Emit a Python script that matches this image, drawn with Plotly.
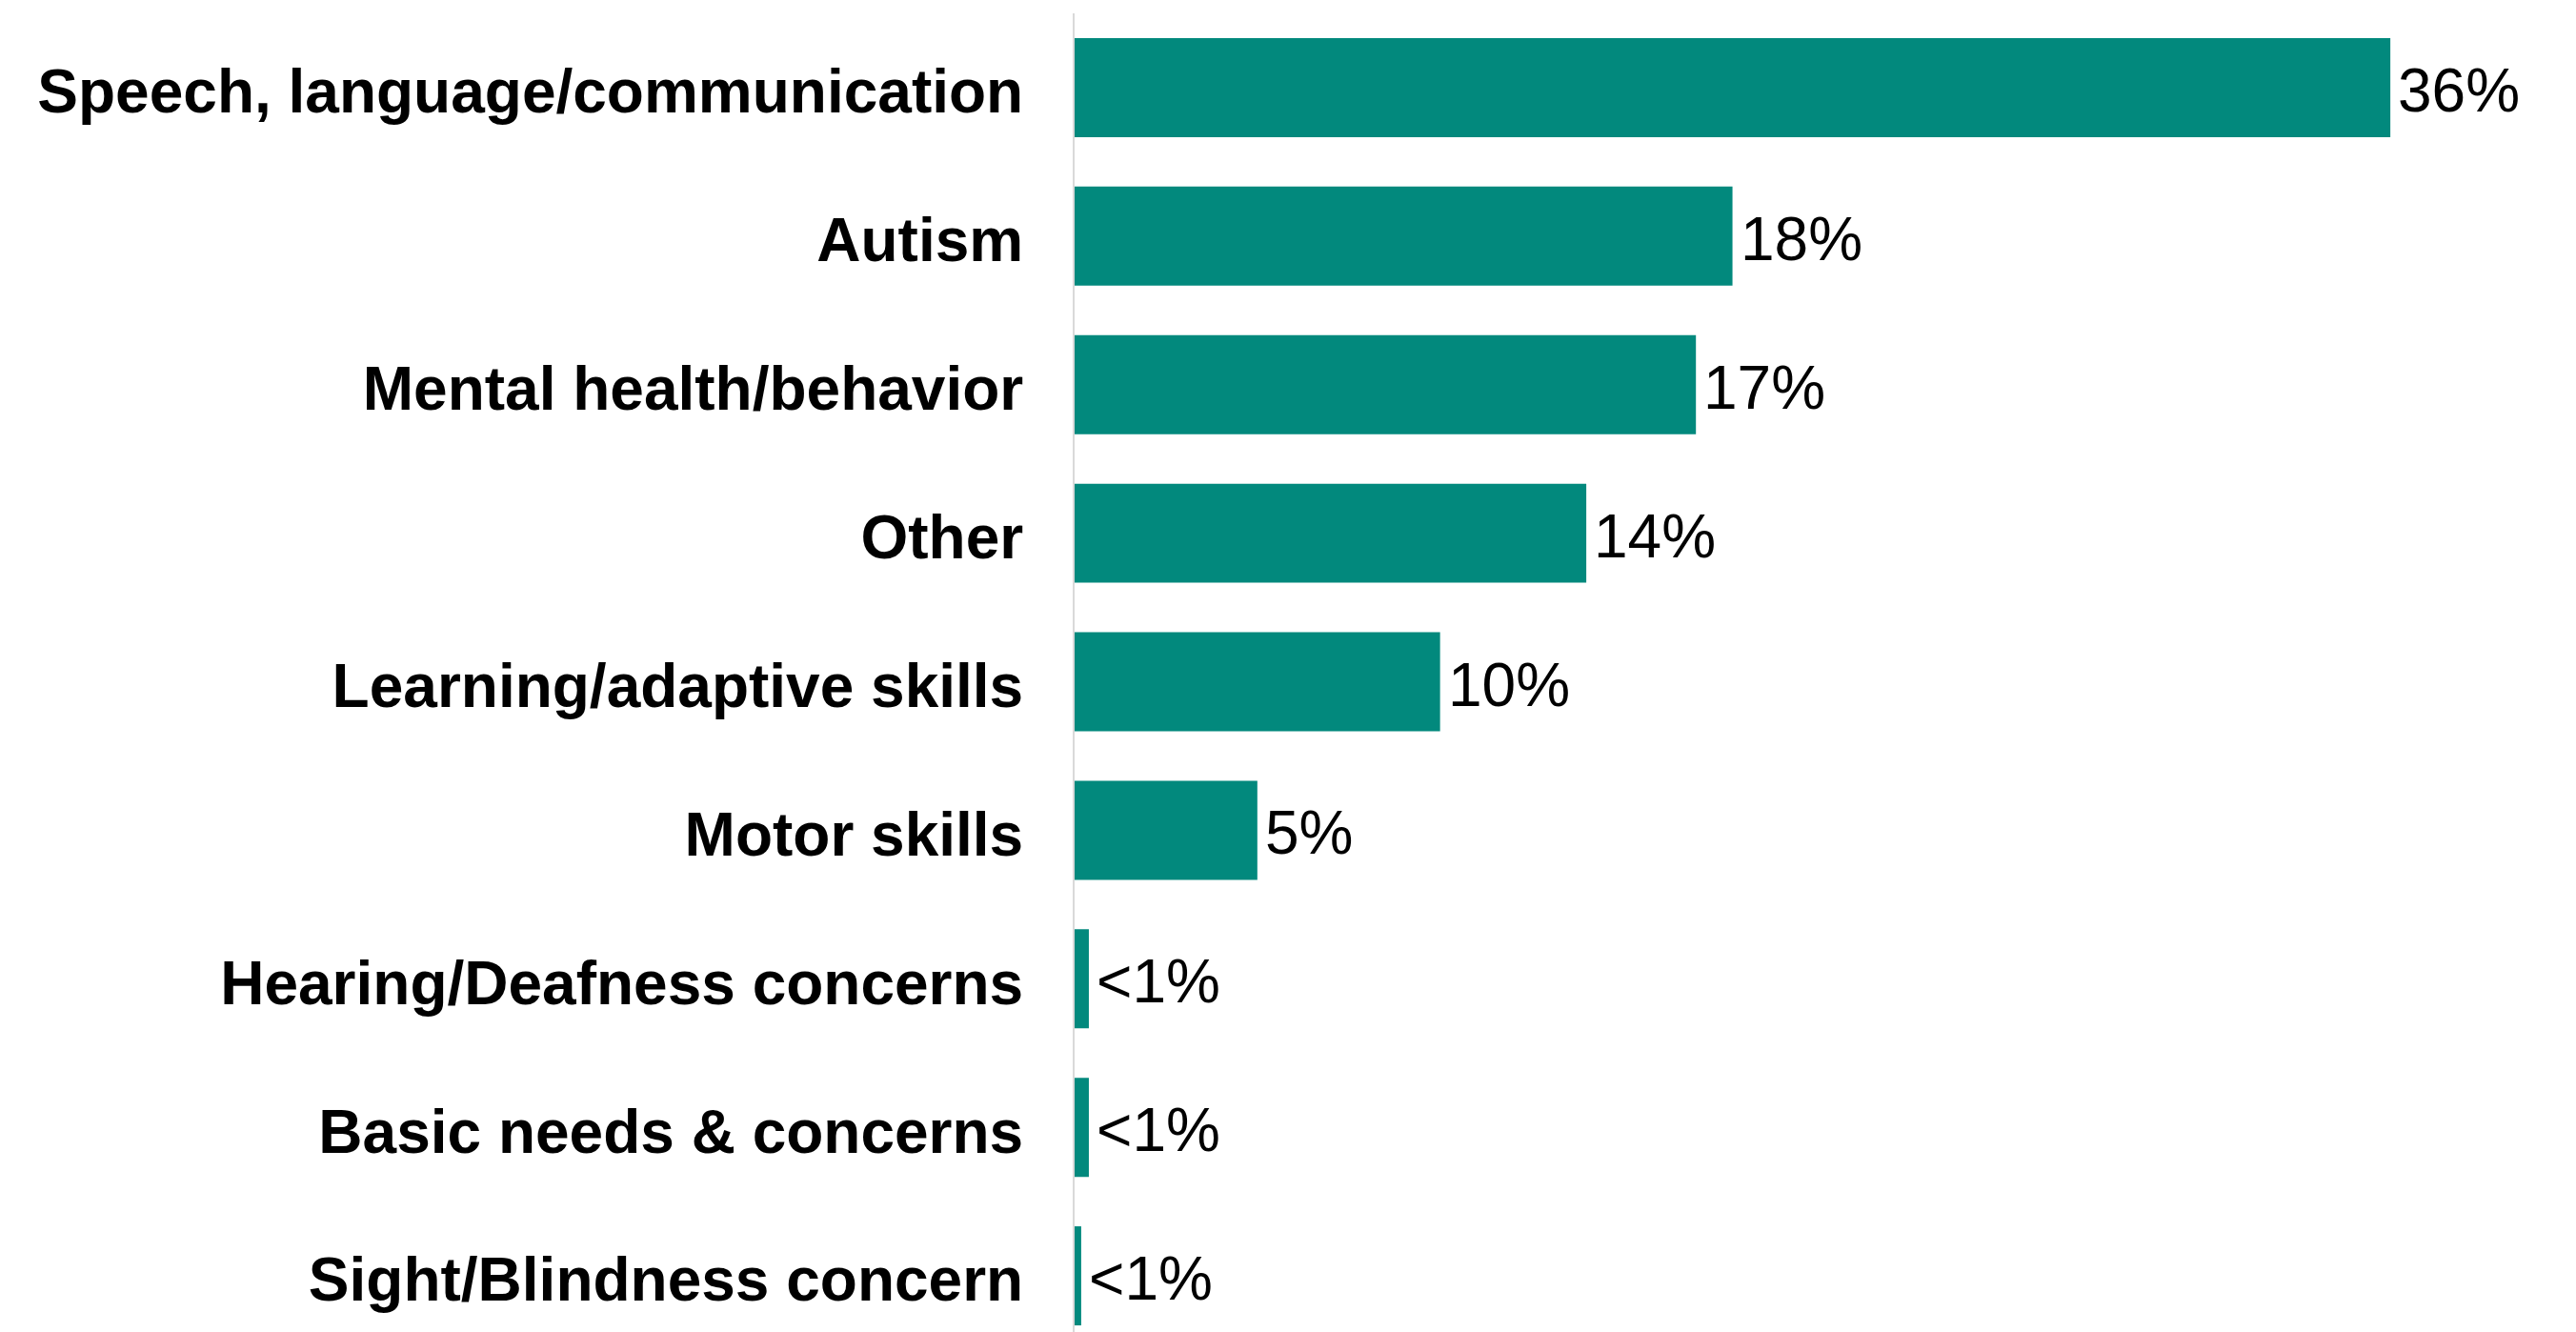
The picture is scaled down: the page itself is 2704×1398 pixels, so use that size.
import plotly.graph_objects as go

# Share of referrals by primary area of concern
categories = [
    "Speech, language/communication",
    "Autism",
    "Mental health/behavior",
    "Other",
    "Learning/adaptive skills",
    "Motor skills",
    "Hearing/Deafness concerns",
    "Basic needs & concerns",
    "Sight/Blindness concern",
]
values = [36, 18, 17, 14, 10, 5, 0.39, 0.39, 0.18]
value_labels = ["36%", "18%", "17%", "14%", "10%", "5%", "<1%", "<1%", "<1%"]

BAR_COLOR = "#02897D"
FONT = "Liberation Sans, Arial, sans-serif"

fig = go.Figure(
    go.Bar(
        x=values,
        y=categories,
        orientation="h",
        marker=dict(color=BAR_COLOR, line=dict(width=0)),
        hoverinfo="skip",
    )
)

for cat, val, lab in zip(categories, values, value_labels):
    fig.add_annotation(
        x=val,
        y=cat,
        text=lab,
        showarrow=False,
        xanchor="left",
        yanchor="middle",
        xshift=6,
        yshift=-3,
        font=dict(family=FONT, size=64, color="black"),
    )

fig.update_layout(
    width=2704,
    height=1398,
    margin=dict(l=1128, r=0, t=14, b=0),
    paper_bgcolor="white",
    plot_bgcolor="white",
    bargap=0.333,
    showlegend=False,
    xaxis=dict(
        range=[0, 41.08],
        visible=False,
        automargin=False,
    ),
    yaxis=dict(
        type="category",
        categoryorder="array",
        categoryarray=categories,
        range=[8.378, -0.5],
        showline=True,
        linecolor="#d9d9d9",
        linewidth=2,
        showgrid=False,
        ticks="",
        ticklabelstandoff=39,
        ticklabelshift=-4,
        tickfont=dict(family=FONT, size=64, color="black", weight="bold"),
        automargin=False,
    ),
)

fig.write_html("out.html")
